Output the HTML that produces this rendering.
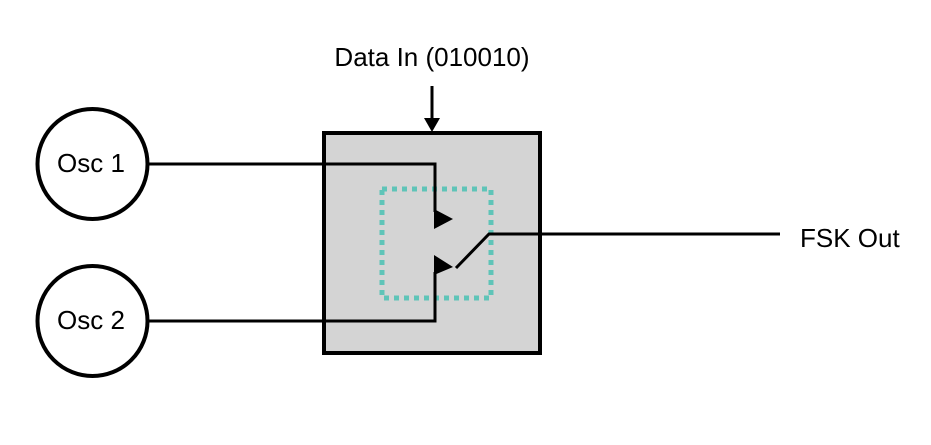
<!DOCTYPE html>
<html><head><style>html,body{margin:0;padding:0;background:#fff;}</style></head>
<body>
<svg width="931" height="440" xmlns="http://www.w3.org/2000/svg" font-family="Liberation Sans, sans-serif">
<rect width="931" height="440" fill="#fff"/>
<rect x="324" y="133" width="216" height="220" fill="#d4d4d4" stroke="#000" stroke-width="4"/>
<rect x="382" y="189" width="109" height="109" fill="none" stroke="#5fc4b8" stroke-width="5" stroke-dasharray="5,5"/>
<circle cx="92.5" cy="164" r="55" fill="#fff" stroke="#000" stroke-width="4"/>
<circle cx="92.5" cy="321" r="55" fill="#fff" stroke="#000" stroke-width="4"/>
<text x="91" y="172" font-size="26" text-anchor="middle">Osc 1</text>
<text x="91" y="329" font-size="26" text-anchor="middle">Osc 2</text>
<path d="M148 164 H435 V212" fill="none" stroke="#000" stroke-width="3"/>
<path d="M148 321 H435 V272" fill="none" stroke="#000" stroke-width="3"/>
<polygon points="434,209 453,219 434,229" fill="#000"/>
<polygon points="434,255 453,267 434,275" fill="#000"/>
<path d="M456 268 L489 234 H780" fill="none" stroke="#000" stroke-width="3"/>
<line x1="432" y1="86" x2="432" y2="120" stroke="#000" stroke-width="3"/>
<polygon points="424,118 440,118 432,132" fill="#000"/>
<text x="432" y="66" font-size="26" text-anchor="middle">Data In (010010)</text>
<text x="800" y="247" font-size="26">FSK Out</text>
</svg>
</body></html>
